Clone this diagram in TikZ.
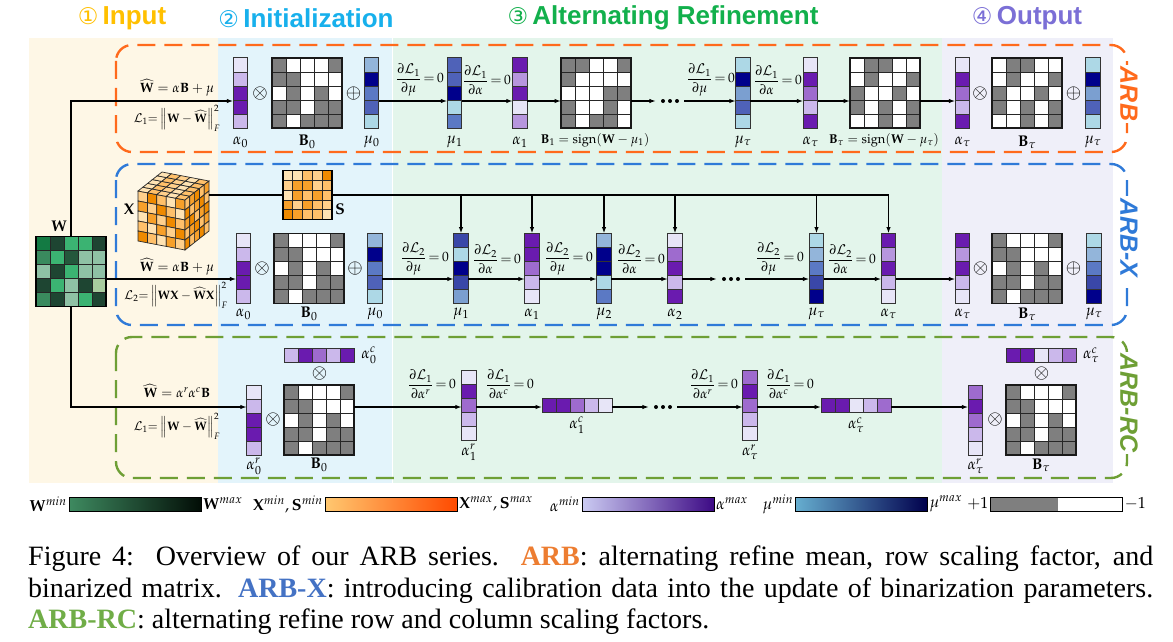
\documentclass[tikz,border=0pt]{standalone}
\usepackage{amsmath}
\usepackage{mathpazo}
\usepackage[no-math]{fontspec}
\setmainfont{Liberation Serif}
\newfontfamily\headfont{Liberation Sans}
\newfontfamily\symfont{DejaVu Sans}
\usetikzlibrary{arrows.meta}

% panel and header colours
\definecolor{bgIn}{HTML}{FEF7E6}
\definecolor{bgInit}{HTML}{E3F4FB}
\definecolor{bgRef}{HTML}{E3F5EB}
\definecolor{bgOut}{HTML}{EFEFF9}
\definecolor{hdIn}{HTML}{FFC000}
\definecolor{hdInit}{HTML}{17B0EC}
\definecolor{hdRef}{HTML}{12B04C}
\definecolor{hdOut}{HTML}{7B6FD6}
\definecolor{arbor}{HTML}{FF6A1C}
\definecolor{arbbl}{HTML}{2F7AD8}
\definecolor{arbgr}{HTML}{6E9F35}
\definecolor{capor}{HTML}{ED7D31}
\definecolor{capbl}{HTML}{4472C4}
\definecolor{capgr}{HTML}{70AD47}
% scaling factor (purple) shades
\definecolor{pA}{HTML}{E7E5F7}
\definecolor{pB}{HTML}{CBB8EB}
\definecolor{pC}{HTML}{B796DE}
\definecolor{pD}{HTML}{9E6BCE}
\definecolor{pE}{HTML}{6A1BAF}
% mean (blue) shades
\definecolor{bA}{HTML}{ADD8E6}
\definecolor{bB}{HTML}{93B5DA}
\definecolor{bC}{HTML}{7B9FD0}
\definecolor{bD}{HTML}{5B79C4}
\definecolor{bE}{HTML}{4F62B8}
\definecolor{bF}{HTML}{3A47A8}
\definecolor{bG}{HTML}{00008B}
% weight (green) shades
\definecolor{gA}{HTML}{137A43}
\definecolor{gB}{HTML}{1E4532}
\definecolor{gC}{HTML}{3BB372}
\definecolor{gD}{HTML}{3A8A5E}
\definecolor{gE}{HTML}{8FC1A5}
\definecolor{gF}{HTML}{A9CC9F}
\definecolor{gG}{HTML}{24573C}
% calibration (orange) shades
\definecolor{oa}{HTML}{FFE3B3}
\definecolor{ob}{HTML}{FFD08C}
\definecolor{oc}{HTML}{FFC06A}
\definecolor{od}{HTML}{F7A02A}
\definecolor{oe}{HTML}{EF8A00}
\definecolor{gcell}{HTML}{7F7F7F}
\definecolor{vecedge}{HTML}{333333}
\definecolor{cubeedge}{HTML}{2A2A2A}
% legend ramps
\definecolor{wlo}{HTML}{3E8A60}
\definecolor{whi}{HTML}{020D06}
\definecolor{xlo}{HTML}{FFC870}
\definecolor{xhi}{HTML}{FF4A00}
\definecolor{alo}{HTML}{CBCBF2}
\definecolor{ahi}{HTML}{3D0A85}
\definecolor{mlo}{HTML}{66AECF}
\definecolor{mhi}{HTML}{00004D}

\tikzset{
  vecbox/.style={draw=vecedge, line width=1pt, minimum width=14.5pt, minimum height=70pt, inner sep=0pt, outer sep=0pt},
  hvecbox/.style={draw=vecedge, line width=1pt, minimum width=70pt, minimum height=14pt, inner sep=0pt, outer sep=0pt},
  matbox/.style={draw=black!90, line width=1.2pt, minimum size=70pt, inner sep=0pt, outer sep=0pt},
  cellsep/.style={draw=vecedge, line width=0.8pt},
  gridsep/.style={draw=black!85, line width=0.8pt},
  conn/.style={line width=1.2pt, -{Latex[length=6.5pt,width=4.5pt]}},
  drop/.style={line width=1.4pt, -{Latex[length=6.5pt,width=4.5pt]}},
  sbus/.style={line width=2.4pt},
  link/.style={line width=1.1pt},
  lab/.style={font=\fontsize{15.5}{18}\selectfont, inner sep=0pt},
  signlab/.style={font=\fontsize{12.8}{15}\selectfont, inner sep=0pt},
  eqn/.style={font=\fontsize{13.5}{15}\selectfont, inner sep=0pt},
  losseqn/.style={font=\fontsize{12.2}{14}\selectfont, inner sep=0pt},
  frac/.style={font=\fontsize{13.5}{15}\selectfont, inner sep=0pt},
  op/.style={font=\fontsize{19}{19}\selectfont, inner sep=0pt},
  head/.style={font=\headfont\bfseries\fontsize{26}{28}\selectfont, inner sep=0pt},
  boxlabel/.style={font=\headfont\bfseries\itshape\fontsize{25}{25}\selectfont, rotate=-90, fill=white, inner sep=2pt},
  arbbox/.style={line width=2.4pt, dash pattern=on 18pt off 9pt, rounded corners=16pt},
  legbar/.style={draw=black, line width=0.8pt, minimum width=132pt, minimum height=14pt, inner sep=0pt},
  legtxt/.style={font=\fontsize{16}{18}\selectfont, inner sep=1.5pt},
  capt/.style={font=\fontsize{28}{31}\selectfont, inner sep=0pt},
  dotbox/.style={minimum width=28pt, minimum height=6pt, inner sep=0pt},
}

\newcommand\pickorange[1]{\ifcase#1 oa\or ob\or oc\or od\or oe\fi}

% vertical vector of five cells: name, centre x, centre y, colours top to bottom
\newcommand\colvec[4]{%
  \foreach \cc [count=\ii from 0] in {#4}
    {\fill[\cc] ({#2-7.25},{#3-35+14*\ii}) rectangle ++(14.5,14);}
  \foreach \ii in {1,...,4}
    {\draw[cellsep] ({#2-7.25},{#3-35+14*\ii}) -- ++(14.5,0);}
  \node[vecbox] (#1) at (#2,#3) {};
}
% horizontal vector of five cells
\newcommand\rowvec[4]{%
  \foreach \cc [count=\ii from 0] in {#4}
    {\fill[\cc] ({#2-35+14*\ii},{#3-7}) rectangle ++(14,14);}
  \foreach \ii in {1,...,4}
    {\draw[cellsep] ({#2-35+14*\ii},{#3-7}) -- ++(0,14);}
  \node[hvecbox] (#1) at (#2,#3) {};
}
% binary 5x5 matrix, 1 = grey (+1), 0 = white (-1)
\newcommand\binmat[4]{%
  \fill[white] ({#2-35},{#3-35}) rectangle ++(70,70);
  \foreach \rw [count=\ri from 0] in #4
    {\foreach \v [count=\ci from 0] in \rw
      {\ifnum\v=1 \fill[gcell] ({#2-35+14*\ci},{#3-35+14*\ri}) rectangle ++(14,14);\fi}}
  \foreach \ii in {1,...,4}
    {\draw[gridsep] ({#2-35+14*\ii},{#3-35}) -- ++(0,70);
     \draw[gridsep] ({#2-35},{#3-35+14*\ii}) -- ++(70,0);}
  \node[matbox] (#1) at (#2,#3) {};
}
% coloured 5x5 matrix: name, centre x, centre y, cell size, rows of colours
\newcommand\colmat[5]{%
  \foreach \rw [count=\ri from 0] in #5
    {\foreach \cc [count=\ci from 0] in \rw
      {\fill[\cc] ({#2-2.5*#4+#4*\ci},{#3-2.5*#4+#4*\ri}) rectangle ++(#4,#4);}}
  \foreach \ii in {1,...,4}
    {\draw[gridsep] ({#2-2.5*#4+#4*\ii},{#3-2.5*#4}) -- ++(0,{5*#4});
     \draw[gridsep] ({#2-2.5*#4},{#3-2.5*#4+#4*\ii}) -- ++({5*#4},0);}
  \node[draw=black, line width=1.1pt, minimum size={5*#4}, inner sep=0pt, outer sep=0pt] (#1) at (#2,#3) {};
}
% three bold dots standing for skipped iterations
\newcommand\skipdots[3]{%
  \node[dotbox] (#1) at (#2,#3) {};
  \foreach \dx in {-7,0,7}{\fill ({#2+\dx},#3) circle (2pt);}
}

\def\patA{{1,0,0,0,1},{1,1,0,0,0},{0,1,0,1,0},{1,1,0,1,1},{1,0,1,1,1}}
\def\patB{{1,1,0,0,1},{1,0,0,0,0},{0,0,0,1,1},{1,0,0,1,0},{1,0,1,1,0}}
\def\patC{{0,1,1,0,0},{0,1,0,0,1},{1,0,0,1,0},{1,0,1,0,1},{0,0,1,0,1}}
\def\patW{{gA,gB,gC,gC,gB},{gD,gC,gG,gE,gE},{gE,gB,gC,gE,gE},{gB,gC,gE,gB,gF},{gD,gB,gE,gC,gB}}
\def\patS{{oa,oa,oc,ob,oe},{ob,od,od,ob,oc},{oa,od,oc,od,oc},{od,ob,od,oc,ob},{oe,od,oc,oc,oa}}

\begin{document}
\begin{tikzpicture}[x=1pt,y=-1pt]
\useasboundingbox (0,0) rectangle (1173,642);
\fill[white] (0,0) rectangle (1173,642);

% stage panels
\fill[bgIn]   (29,38)    rectangle (218,483);
\fill[bgInit] (218,38)   rectangle (391.5,483);
\fill[bgRef]  (392.5,38) rectangle (942,483);
\fill[bgOut]  (942,38)   rectangle (1113,483);

% stage headers
\node[head, text=hdIn]   (hIn)   at (122,18)  {{\symfont\mdseries\fontsize{23}{23}\selectfont ①}\,Input};
\node[head, text=hdInit] (hInit) at (306,18)  {{\symfont\mdseries\fontsize{23}{23}\selectfont ②}\,Initialization};
\node[head, text=hdRef]  (hRef)  at (663,18)  {{\symfont\mdseries\fontsize{23}{23}\selectfont ③}\,Alternating Refinement};
\node[head, text=hdOut]  (hOut)  at (1027,18) {{\symfont\mdseries\fontsize{23}{23}\selectfont ④}\,Output};

% method frames
\draw[arbbox, draw=arbor] (116,45)  rectangle (1127,152);
\draw[arbbox, draw=arbbl] (116,164) rectangle (1127,325);
\draw[arbbox, draw=arbgr] (116,337) rectangle (1127,478);
\node[boxlabel, text=arbor] (lArb)  at (1129,94)  {ARB};
\node[boxlabel, text=arbbl] (lArbX) at (1129,238) {ARB-X};
\node[boxlabel, text=arbgr] (lArbR) at (1129,403) {ARB-RC};

% ---------- input weight ----------
\colmat{W}{71}{271.5}{14}{\patW}
\node[lab] (wLab) at (59,226) {$\mathbf{W}$};

% ---------- calibration data cube ----------
% front face
\foreach \i in {0,...,4}{\foreach \j in {0,...,4}{
  \pgfmathtruncatemacro\k{mod(\i*3+\j*7+1,5)}
  \edef\cc{\pickorange{\k}}
  \filldraw[fill=\cc, draw=cubeedge, line width=0.7pt]
    ({138+9.4*\i},{191+1.8*\i+10*\j}) -- ++(9.4,1.8) -- ++(0,10) -- ++(-9.4,-1.8) -- cycle;
}}
% top face (lighter)
\foreach \i in {0,...,4}{\foreach \m in {0,...,4}{
  \pgfmathtruncatemacro\k{mod(\i*2+\m*3,3)}
  \edef\cc{\pickorange{\k}}
  \filldraw[fill=\cc, draw=cubeedge, line width=0.7pt]
    ({138+9.4*\i+4.8*\m},{191+1.8*\i-3.8*\m}) -- ++(9.4,1.8) -- ++(4.8,-3.8) -- ++(-9.4,-1.8) -- cycle;
}}
% right face (darker)
\foreach \m in {0,...,4}{\foreach \j in {0,...,4}{
  \pgfmathtruncatemacro\k{mod(\m*4+\j*2+3,3)+2}
  \edef\cc{\pickorange{\k}}
  \filldraw[fill=\cc, draw=cubeedge, line width=0.7pt]
    ({185+4.8*\m},{200-3.8*\m+10*\j}) -- ++(4.8,-3.8) -- ++(0,10) -- ++(-4.8,3.8) -- cycle;
}}
\node[inner sep=0pt, minimum width=71pt, minimum height=81pt] (cube) at (173.5,210.5) {};
\node[lab] (xLab) at (129,209) {$\mathbf{X}$};

\colmat{S}{307.5}{195}{9.8}{\patS}
\node[lab] (sLab) at (340,209) {$\mathbf{S}$};

% ---------- ARB ----------
\colvec{arbA0}{240.5}{93}{pA,pB,pE,pE,pB}
\binmat{arbB0}{307}{93}{\patA}
\colvec{arbMu0}{371.5}{93}{bB,bG,bD,bE,bA}
\colvec{arbMu1}{454.5}{93}{bE,bE,bG,bA,bD}
\colvec{arbA1}{520}{93}{pE,pC,pE,pA,pC}
\binmat{arbB1}{596}{93}{\patB}
\skipdots{arbDots}{670}{101}
\colvec{arbMuT}{743}{93}{bA,bG,bC,bE,bA}
\colvec{arbAT}{810.5}{93}{pA,pE,pD,pB,pE}
\binmat{arbBT}{885}{93}{\patC}
\colvec{arbOA}{962.5}{93}{pA,pE,pD,pB,pE}
\binmat{arbOB}{1027}{93}{\patC}
\colvec{arbOMu}{1093}{93}{bA,bG,bC,bE,bA}

\node[op] (arbX0) at (260,94)    {$\otimes$};
\node[op] (arbP0) at (353.5,94)  {$\oplus$};
\node[op] (arbXT) at (980,94)    {$\otimes$};
\node[op] (arbPT) at (1073.5,94) {$\oplus$};

\node[eqn] (arbE1) at (177,88)  {$\widehat{\mathbf{W}}=\alpha\mathbf{B}+\mu$};
\node[losseqn] (arbE2) at (177,118) {$\mathcal{L}_1{=}\,\Big\|\mathbf{W}-\widehat{\mathbf{W}}\Big\|_F^2$};

\node[frac] (arbF1) at (420,80) {$\dfrac{\partial\mathcal{L}_1}{\partial\mu}\,{=}\,0$};
\node[frac] (arbF2) at (487,80) {$\dfrac{\partial\mathcal{L}_1}{\partial\alpha}\,{=}\,0$};
\node[frac] (arbF3) at (711,80) {$\dfrac{\partial\mathcal{L}_1}{\partial\mu}\,{=}\,0$};
\node[frac] (arbF4) at (778,80) {$\dfrac{\partial\mathcal{L}_1}{\partial\alpha}\,{=}\,0$};

\node[lab] at (240.5,142) (arbLa0) {$\alpha_0$};
\node[lab] at (307,142)   (arbLb0) {$\mathbf{B}_0$};
\node[lab] at (371.5,142) (arbLm0) {$\mu_0$};
\node[lab] at (454.5,142) (arbLm1) {$\mu_1$};
\node[lab] at (520,142)   (arbLa1) {$\alpha_1$};
\node[signlab] at (595,140)   (arbLb1) {$\mathbf{B}_1=\mathrm{sign}(\mathbf{W}-\mu_1)$};
\node[lab] at (743,142)   (arbLmT) {$\mu_\tau$};
\node[lab] at (810.5,142) (arbLaT) {$\alpha_\tau$};
\node[signlab] at (884,140)   (arbLbT) {$\mathbf{B}_\tau=\mathrm{sign}(\mathbf{W}-\mu_\tau)$};
\node[lab] at (962.5,142) (arbLoa) {$\alpha_\tau$};
\node[lab] at (1027,142)  (arbLob) {$\mathbf{B}_\tau$};
\node[lab] at (1093,142)  (arbLom) {$\mu_\tau$};

% ---------- ARB-X ----------
\colvec{xA0}{243.5}{268.5}{pA,pB,pE,pE,pB}
\binmat{xB0}{309}{268.5}{\patA}
\colvec{xMu0}{375}{268.5}{bB,bG,bD,bE,bA}
\colvec{xMu1}{461}{268.5}{bF,bA,bG,bF,bC}
\colvec{xA1}{532}{268.5}{pE,pE,pD,pB,pA}
\colvec{xMu2}{604}{268.5}{bB,bG,bG,bA,bD}
\colvec{xA2}{675}{268.5}{pA,pD,pE,pB,pE}
\skipdots{xDots}{731}{279}
\colvec{xMuT}{816.5}{268.5}{bA,bB,bD,bF,bG}
\colvec{xAT}{888.5}{268.5}{pE,pC,pE,pB,pA}
\colvec{xOA}{962.5}{268.5}{pE,pC,pE,pB,pA}
\binmat{xOB}{1027}{268.5}{\patA}
\colvec{xOMu}{1094}{268.5}{bA,bB,bD,bF,bG}

\node[op] (xX0) at (262,268.5)    {$\otimes$};
\node[op] (xP0) at (355,268.5)    {$\oplus$};
\node[op] (xXT) at (980.5,268.5)  {$\otimes$};
\node[op] (xPT) at (1073.5,268.5) {$\oplus$};

\node[eqn] (xE1) at (177,267) {$\widehat{\mathbf{W}}=\alpha\mathbf{B}+\mu$};
\node[losseqn] (xE2) at (176,295) {$\mathcal{L}_2{=}\,\Big\|\mathbf{W}\mathbf{X}-\widehat{\mathbf{W}}\mathbf{X}\Big\|_F^2$};

\node[frac] (xF1) at (425,259) {$\dfrac{\partial\mathcal{L}_2}{\partial\mu}\,{=}\,0$};
\node[frac] (xF2) at (497,259) {$\dfrac{\partial\mathcal{L}_2}{\partial\alpha}\,{=}\,0$};
\node[frac] (xF3) at (569,259) {$\dfrac{\partial\mathcal{L}_2}{\partial\mu}\,{=}\,0$};
\node[frac] (xF4) at (641,259) {$\dfrac{\partial\mathcal{L}_2}{\partial\alpha}\,{=}\,0$};
\node[frac] (xF5) at (780,259) {$\dfrac{\partial\mathcal{L}_2}{\partial\mu}\,{=}\,0$};
\node[frac] (xF6) at (852,259) {$\dfrac{\partial\mathcal{L}_2}{\partial\alpha}\,{=}\,0$};

\node[lab] at (243.5,314) (xLa0) {$\alpha_0$};
\node[lab] at (309,314)   (xLb0) {$\mathbf{B}_0$};
\node[lab] at (375,314)   (xLm0) {$\mu_0$};
\node[lab] at (461,314)   (xLm1) {$\mu_1$};
\node[lab] at (532,314)   (xLa1) {$\alpha_1$};
\node[lab] at (604,314)   (xLm2) {$\mu_2$};
\node[lab] at (675,314)   (xLa2) {$\alpha_2$};
\node[lab] at (816.5,314) (xLmT) {$\mu_\tau$};
\node[lab] at (888.5,314) (xLaT) {$\alpha_\tau$};
\node[lab] at (962.5,314) (xLoa) {$\alpha_\tau$};
\node[lab] at (1027,314)  (xLob) {$\mathbf{B}_\tau$};
\node[lab] at (1094,314)  (xLom) {$\mu_\tau$};

% ---------- ARB-RC ----------
\rowvec{rcA0c}{319}{355}{pB,pE,pD,pB,pE}
\colvec{rcA0r}{254}{420}{pA,pB,pE,pE,pB}
\binmat{rcB0}{319}{420}{\patA}
\colvec{rcA1r}{469}{405}{pA,pE,pD,pB,pA}
\rowvec{rcA1c}{577}{405}{pE,pE,pD,pB,pA}
\skipdots{rcDots}{663}{407}
\colvec{rcATr}{750}{405}{pD,pE,pD,pB,pA}
\rowvec{rcATc}{856}{405}{pE,pE,pA,pB,pD}
\colvec{rcOAr}{975.5}{420}{pD,pE,pD,pB,pA}
\rowvec{rcOAc}{1041}{355}{pE,pE,pA,pB,pD}
\binmat{rcOB}{1041}{420}{\patA}

\node[op] (rcX0a) at (319.5,374) {$\otimes$};
\node[op] (rcX0b) at (273,420)   {$\otimes$};
\node[op] (rcXTa) at (1041.5,374) {$\otimes$};
\node[op] (rcXTb) at (995,420)   {$\otimes$};

\node[eqn] (rcE1) at (177,391) {$\widehat{\mathbf{W}}=\alpha^r\alpha^c\mathbf{B}$};
\node[losseqn] (rcE2) at (177,426) {$\mathcal{L}_1{=}\,\Big\|\mathbf{W}-\widehat{\mathbf{W}}\Big\|_F^2$};

\node[frac] (rcF1) at (432,384) {$\dfrac{\partial\mathcal{L}_1}{\partial\alpha^r}\,{=}\,0$};
\node[frac] (rcF2) at (510,384) {$\dfrac{\partial\mathcal{L}_1}{\partial\alpha^c}\,{=}\,0$};
\node[frac] (rcF3) at (714,384) {$\dfrac{\partial\mathcal{L}_1}{\partial\alpha^r}\,{=}\,0$};
\node[frac] (rcF4) at (790,384) {$\dfrac{\partial\mathcal{L}_1}{\partial\alpha^c}\,{=}\,0$};

\node[lab] at (369,355)    (rcLa0c) {$\alpha_0^c$};
\node[lab] at (254,466)    (rcLa0r) {$\alpha_0^r$};
\node[lab] at (319,465)    (rcLb0)  {$\mathbf{B}_0$};
\node[lab] at (469,452)    (rcLa1r) {$\alpha_1^r$};
\node[lab] at (577,425)    (rcLa1c) {$\alpha_1^c$};
\node[lab] at (750,452)    (rcLaTr) {$\alpha_\tau^r$};
\node[lab] at (856,425)    (rcLaTc) {$\alpha_\tau^c$};
\node[lab] at (975.5,466)  (rcLoar) {$\alpha_\tau^r$};
\node[lab] at (1041,465)   (rcLob)  {$\mathbf{B}_\tau$};
\node[lab] at (1091,355)   (rcLoac) {$\alpha_\tau^c$};

% ---------- connectors ----------
\coordinate (tA) at (71,101);
\coordinate (yX) at (0,279);
\coordinate (tR) at (71,407);

\draw[conn] (W.north) -- (tA) -- (arbA0.west |- tA);
\draw[conn] (arbMu0.east |- tA) -- (arbMu1.west |- tA);
\draw[conn] (arbMu1.east |- tA) -- (arbA1.west |- tA);
\draw[conn] (arbA1.east |- tA) -- (arbB1.west |- tA);
\draw[conn] (arbB1.east |- tA) -- (arbDots.west);
\draw[conn] (arbDots.east) -- (arbMuT.west |- tA);
\draw[conn] (arbMuT.east |- tA) -- (arbAT.west |- tA);
\draw[conn] (arbAT.east |- tA) -- (arbBT.west |- tA);
\draw[conn] (arbBT.east |- tA) -- (arbOA.west |- tA);

\draw[conn] (W.east |- yX) -- (xA0.west |- yX);
\draw[conn] (xMu0.east |- yX) -- (xMu1.west |- yX);
\draw[conn] (xMu1.east |- yX) -- (xA1.west |- yX);
\draw[conn] (xA1.east |- yX) -- (xMu2.west |- yX);
\draw[conn] (xMu2.east |- yX) -- (xA2.west |- yX);
\draw[conn] (xA2.east |- yX) -- (xDots.west);
\draw[conn] (xDots.east) -- (xMuT.west |- yX);
\draw[conn] (xMuT.east |- yX) -- (xAT.west |- yX);
\draw[conn] (xAT.east |- yX) -- (xOA.west |- yX);

\draw[link] (cube.east |- S.west) -- (S.west);
\draw[sbus] (S.east) -- (xAT.north |- S.east);
\foreach \v in {xMu1,xA1,xMu2,xA2,xMuT,xAT}
  {\draw[drop] (\v.north |- S.east) -- (\v.north);}

\draw[conn] (W.south) -- (tR) -- (rcA0r.west |- tR);
\draw[conn] (rcB0.east |- tR) -- (rcA1r.west |- tR);
\draw[conn] (rcA1r.east |- tR) -- (rcA1c.west |- tR);
\draw[conn] (rcA1c.east |- tR) -- (rcDots.west);
\draw[conn] (rcDots.east) -- (rcATr.west |- tR);
\draw[conn] (rcATr.east |- tR) -- (rcATc.west |- tR);
\draw[conn] (rcATc.east |- tR) -- (rcOAr.west |- tR);

% ---------- colour legend ----------
\node[legbar, left color=wlo, right color=whi] (barW) at (135,504) {};
\node[legbar, left color=xlo, right color=xhi] (barX) at (391,504) {};
\node[legbar, left color=alo, right color=ahi] (barA) at (648,504) {};
\node[legbar, left color=mlo, right color=mhi] (barM) at (861.5,504) {};
\fill[gcell] (990,497) rectangle (1058,511);
\node[legbar] (barPM) at (1056.5,504) {};
\node[legtxt, anchor=east] (tWmin) at (barW.west) {$\mathbf{W}^{min}$};
\node[legtxt, anchor=west] (tWmax) at (barW.east) {$\mathbf{W}^{max}$};
\node[legtxt, anchor=east] (tXmin) at (barX.west) {$\mathbf{X}^{min},\mathbf{S}^{min}$};
\node[legtxt, anchor=west] (tXmax) at (barX.east) {$\mathbf{X}^{max},\mathbf{S}^{max}$};
\node[legtxt, anchor=east] (tAmin) at (barA.west) {$\alpha^{min}$};
\node[legtxt, anchor=west] (tAmax) at (barA.east) {$\alpha^{max}$};
\node[legtxt, anchor=east] (tMmin) at (barM.west) {$\mu^{min}$};
\node[legtxt, anchor=west] (tMmax) at (barM.east) {$\mu^{max}$};
\node[legtxt, anchor=east] (tPlus) at (barPM.west) {$+1$};
\node[legtxt, anchor=west] (tMinus) at (barPM.east) {$-1$};

% ---------- caption ----------
\node[capt, anchor=base west] (cap1) at (28,565) {\makebox[1125pt][s]{Figure 4:\ \ Overview of our ARB series.\ \ \textcolor{capor}{\textbf{ARB}}: alternating refine mean, row scaling factor, and}};
\node[capt, anchor=base west] (cap2) at (28,597) {\makebox[1125pt][s]{binarized matrix. \textcolor{capbl}{\textbf{ARB-X}}: introducing calibration data into the update of binarization parameters.}};
\node[capt, anchor=base west] (cap3) at (28,628) {\textcolor{capgr}{\textbf{ARB-RC}}: alternating refine row and column scaling factors.};
\end{tikzpicture}
\end{document}
